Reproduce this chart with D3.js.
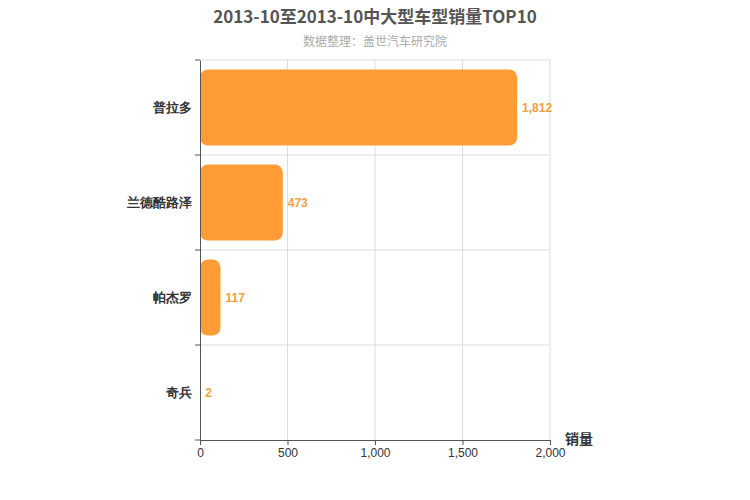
<!DOCTYPE html>
<html><head><meta charset="utf-8">
<script src="https://cdn.jsdelivr.net/npm/d3@7/dist/d3.min.js"></script>
<style>body{margin:0;background:#fff;font-family:"Noto Sans CJK SC","Liberation Sans",sans-serif}</style>
</head><body>
<script>
const categories = ["普拉多","兰德酷路泽","帕杰罗","奇兵"];
const values = [1812,473,117,2];
const xTicks = [0,500,1000,1500,2000];

const W=750,H=500,L=200,R=550,T=60,B=440;
const svg=d3.select("body").append("svg").attr("width",W).attr("height",H);
const x=d3.scaleLinear().domain([0,2000]).range([L,R]);
const y=d3.scaleBand().domain(categories).range([T,B]).paddingInner(0.2).paddingOuter(0.1);
const yb=d3.scaleBand().domain(categories).range([T,B]);

svg.append("text").attr("x",375).attr("y",23).attr("text-anchor","middle").attr("font-size",17).attr("font-weight","bold").attr("fill","#555").text("2013-10至2013-10中大型车型销量TOP10");
svg.append("text").attr("x",375).attr("y",46).attr("text-anchor","middle").attr("font-size",12).attr("fill","#aaa").text("数据整理：盖世汽车研究院");

const g=svg.append("g");
xTicks.forEach(t=>{ if(t>0) g.append("line").attr("x1",x(t)).attr("x2",x(t)).attr("y1",T).attr("y2",B).attr("stroke","#ddd");});
categories.forEach((c,i)=>{ if(i>0) g.append("line").attr("x1",L).attr("x2",R).attr("y1",yb(c)).attr("y2",yb(c)).attr("stroke","#ddd");});
g.append("line").attr("x1",L).attr("x2",R).attr("y1",T).attr("y2",T).attr("stroke","#ddd");

g.selectAll("rect.bar").data(values).enter().append("rect")
 .attr("x",L).attr("y",(d,i)=>y(categories[i])).attr("height",y.bandwidth())
 .attr("width",d=>Math.max(0,x(d)-L)).attr("rx",d=>Math.min(8,(x(d)-L)/2)).attr("fill","#ff9c35");
g.selectAll("text.v").data(values).enter().append("text")
 .attr("x",d=>x(d)+5).attr("y",(d,i)=>y(categories[i])+y.bandwidth()/2+4)
 .attr("font-size",12).attr("font-weight","bold").attr("fill","#f0a040").attr("font-family","Liberation Sans, sans-serif")
 .text(d=>d3.format(",")(d));

const ya=svg.append("g").attr("transform",`translate(${L},0)`).call(d3.axisLeft(yb).tickSize(0).tickPadding(8));
ya.selectAll("text").attr("font-size",13).attr("font-weight","bold").attr("fill","#333");
ya.select(".domain").attr("stroke","#555");
categories.concat([null]).forEach((c,i)=>{ const yy=c?yb(c):B; svg.append("line").attr("x1",L-5).attr("x2",L).attr("y1",yy).attr("y2",yy).attr("stroke","#555");});

const xa=svg.append("g").attr("transform",`translate(0,${B})`).call(d3.axisBottom(x).tickValues(xTicks).tickFormat(d3.format(",")).tickSize(5));
xa.selectAll("text").attr("font-size",12).attr("fill","#333").attr("font-family","Liberation Sans, sans-serif");
xa.select(".domain").attr("stroke","#555");
xa.selectAll(".tick line").attr("stroke","#555");
svg.append("text").attr("x",565).attr("y",444).attr("font-size",14).attr("font-weight","bold").attr("fill","#333").text("销量");
</script></body></html>
